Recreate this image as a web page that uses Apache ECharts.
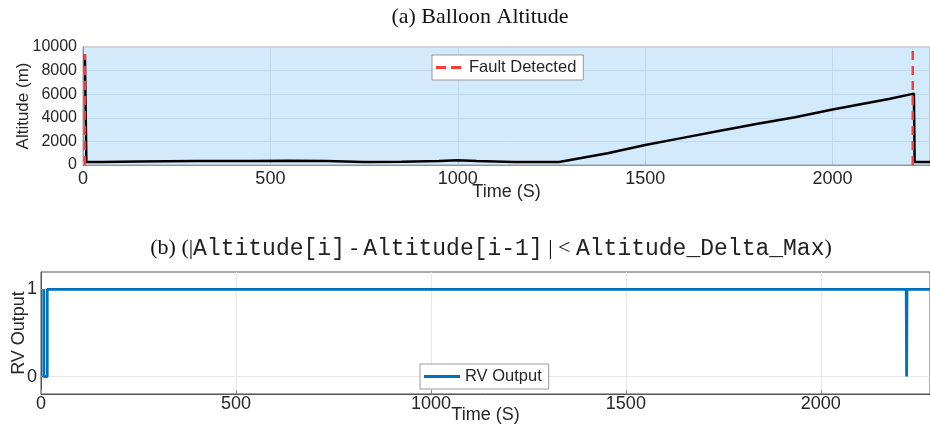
<!DOCTYPE html>
<html>
<head>
<meta charset="utf-8">
<script src="https://cdn.jsdelivr.net/npm/echarts@6/dist/echarts.min.js"></script>
<style>
  html, body { margin: 0; padding: 0; background: #fff; }
  #chart { width: 930px; height: 430px; }
</style>
</head>
<body>
<div id="chart"></div>
<script>
// (a) balloon altitude, [time s, altitude m]
var altitude = [
  [5, 9400], [7, 9400], [9, 250], [50, 260], [150, 300], [300, 330], [450, 340],
  [550, 370], [650, 330], [750, 260], [850, 280], [950, 330], [1000, 400],
  [1050, 330], [1150, 260], [1270, 260], [1400, 1000], [1500, 1700], [1600, 2300],
  [1700, 2900], [1800, 3500], [1900, 4050], [2000, 4700], [2100, 5300],
  [2150, 5600], [2217, 6050], [2219, 250], [2260, 250]
];
var faultLeft = [[5, 0], [5, 9400]];
var faultRight = [[2214, 0], [2214, 9800]];

// (b) runtime verification output
var rvOutput = [
  [7, 1], [7, 0], [16, 0], [16, 1], [2219, 1], [2220, 0], [2221, 1], [2280, 1]
];

var altTicks = [0, 2000, 4000, 6000, 8000, 10000];
var sans = 'Liberation Sans';
var txt = '#262626';
var plain = function (v) { return String(v); };

var chart = echarts.init(document.getElementById('chart'));

chart.setOption({
  animation: false,
  backgroundColor: '#fff',
  title: [
    {
      text: '(a) Balloon Altitude',
      left: 475, top: 1, textAlign: 'center',
      textStyle: { fontFamily: 'Liberation Serif', fontSize: 22, fontWeight: 'normal', color: '#111' }
    },
    {
      text: '{t|(b) (|}{m|Altitude[i]}{t| - }{m|Altitude[i-1]}{t| | < }{m|Altitude_Delta_Max}{t|)}',
      left: 486, top: 232, textAlign: 'center',
      textStyle: {
        fontWeight: 'normal',
        rich: {
          t: { fontFamily: 'Liberation Serif', fontSize: 22, fontWeight: 'normal', color: '#111' },
          m: { fontFamily: 'Liberation Mono', fontSize: 23, fontWeight: 'normal', color: '#222' }
        }
      }
    }
  ],
  legend: [
    {
      data: [{ name: 'Fault Detected', icon: 'path://M0,0h10v3h-10z M15,0h10v3h-10z' }],
      left: 432, top: 55,
      backgroundColor: '#fff', borderColor: '#9a9a9a', borderWidth: 1,
      padding: [4, 7, 4, 4],
      itemWidth: 31, itemHeight: 3, itemGap: 8,
      textStyle: { fontFamily: sans, fontSize: 16.5, color: txt }
    },
    {
      data: [{ name: 'RV Output', icon: 'rect' }],
      left: 420, top: 364,
      backgroundColor: '#fff', borderColor: '#9a9a9a', borderWidth: 1,
      padding: [4, 7, 4, 4],
      itemWidth: 36, itemHeight: 3,
      textStyle: { fontFamily: sans, fontSize: 16.5, color: txt }
    }
  ],
  grid: [
    { left: 83, top: 47, right: 0, height: 118, outerBoundsMode: 'none', show: true, backgroundColor: '#d3eafc', borderColor: '#9aa3ad', borderWidth: 1 },
    { left: 41, top: 272, right: 0, height: 122, outerBoundsMode: 'none', show: true, backgroundColor: '#fff', borderColor: '#555', borderWidth: 1 }
  ],
  xAxis: [
    {
      gridIndex: 0, type: 'value', min: 0, max: 2260, interval: 500,
      name: 'Time (S)', nameLocation: 'middle', nameGap: 18, nameMoveOverlap: false,
      nameTextStyle: { fontFamily: sans, fontSize: 18, color: txt },
      axisLine: { onZero: false, lineStyle: { color: '#8a949e' } },
      axisTick: { inside: true, length: 4, lineStyle: { color: '#b0c4d4' } },
      axisLabel: { fontFamily: sans, fontSize: 18, color: txt, margin: 5, showMaxLabel: false, formatter: plain },
      splitLine: { show: true, lineStyle: { color: '#bfd8ec', width: 1 } }
    },
    {
      gridIndex: 1, type: 'value', min: 0, max: 2280, interval: 500,
      name: 'Time (S)', nameLocation: 'middle', nameGap: 12, nameMoveOverlap: false,
      nameTextStyle: { fontFamily: sans, fontSize: 18, color: txt },
      axisLine: { onZero: false, lineStyle: { color: '#555' } },
      axisTick: { inside: true, length: 4, lineStyle: { color: '#888' } },
      axisLabel: { fontFamily: sans, fontSize: 18, color: txt, margin: 1, showMaxLabel: false, formatter: plain },
      splitLine: { show: true, lineStyle: { color: '#e8e8e8', width: 1 } }
    }
  ],
  yAxis: [
    {
      gridIndex: 0, type: 'value', min: 0, max: 10000, interval: 2000,
      name: 'Altitude (m)', nameLocation: 'middle', nameGap: 51, nameMoveOverlap: false,
      nameTextStyle: { fontFamily: sans, fontSize: 17, color: txt },
      axisLine: { show: true, lineStyle: { color: '#8a949e' } },
      axisTick: { show: false },
      axisLabel: {
        fontFamily: sans, fontSize: 16, color: txt, margin: 6,
        formatter: function (v) { return altTicks.indexOf(v) >= 0 ? String(v) : ''; }
      },
      splitLine: { show: true, lineStyle: { color: '#bfd8ec', width: 1 } }
    },
    {
      gridIndex: 1, type: 'value', min: -0.2, max: 1.2,
      name: 'RV Output', nameLocation: 'middle', nameGap: 13, nameMoveOverlap: false,
      nameTextStyle: { fontFamily: sans, fontSize: 18, color: txt },
      axisLine: { show: true, lineStyle: { color: '#555' } },
      axisTick: { show: true, inside: true, length: 4, customValues: [0, 1], lineStyle: { color: '#888' } },
      axisLabel: { fontFamily: sans, fontSize: 18, color: txt, margin: 4, customValues: [0, 1] },
      splitLine: { show: true, lineStyle: { color: '#e8e8e8', width: 1 } }
    }
  ],
  series: [
    {
      name: 'Altitude', type: 'line', xAxisIndex: 0, yAxisIndex: 0,
      data: altitude, symbol: 'none',
      lineStyle: { color: '#000', width: 2.5 }, itemStyle: { color: '#000' }
    },
    {
      name: 'Fault Detected', type: 'line', xAxisIndex: 0, yAxisIndex: 0,
      data: faultLeft, symbol: 'none',
      lineStyle: { color: '#ff3838', width: 2.5, type: [9, 6] }, itemStyle: { color: '#ff3838' }
    },
    {
      name: 'Fault Detected', type: 'line', xAxisIndex: 0, yAxisIndex: 0,
      data: faultRight, symbol: 'none',
      lineStyle: { color: '#ff3838', width: 2.5, type: [9, 6] }, itemStyle: { color: '#ff3838' }
    },
    {
      name: 'RV Output', type: 'line', xAxisIndex: 1, yAxisIndex: 1,
      data: rvOutput, symbol: 'none',
      lineStyle: { color: '#0072bd', width: 2.8 }, itemStyle: { color: '#0072bd' }
    }
  ]
});
</script>
</body>
</html>
